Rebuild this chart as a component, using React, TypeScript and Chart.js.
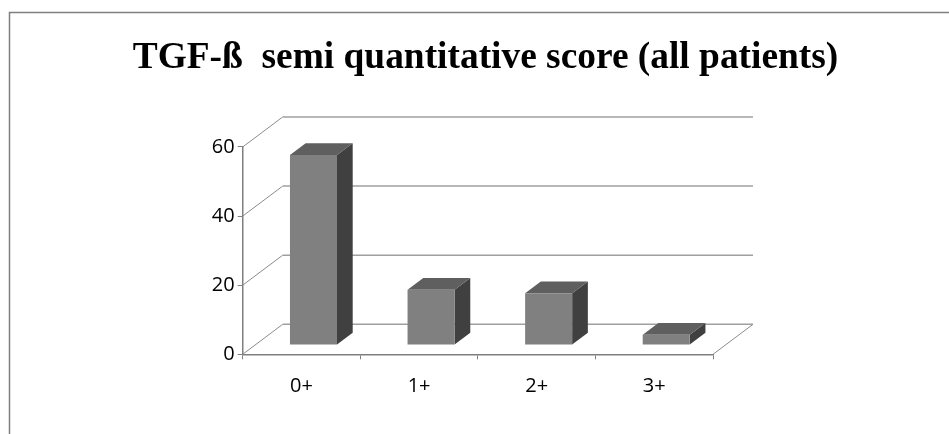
import React, { useEffect, useRef } from "react";
import { Chart, registerables } from "chart.js";

Chart.register(...registerables);

const categories = ["0+", "1+", "2+", "3+"];
const scores = [55, 16, 15, 3];
const yTicks = [0, 20, 40, 60];
const chartTitle = "TGF-ß  semi quantitative score (all patients)";

// Oblique projection of the 3D box: full floor depth and bar depth, in pixels.
const FLOOR_DX = 40;
const FLOOR_DY = -30;
const BAR_SHIFT_X = 12;
const BAR_SHIFT_Y = -9.3;
const BAR_DX = 15.7;
const BAR_DY = -11.7;

const perspective = {
  id: "perspective",
  beforeDraw(chart: any) {
    const { ctx, width, height } = chart;
    ctx.save();
    ctx.fillStyle = "#fff";
    ctx.fillRect(0, 0, width, height);
    ctx.strokeStyle = "#7f7f7f";
    ctx.lineWidth = 1.5;
    ctx.beginPath();
    ctx.moveTo(9.5, height);
    ctx.lineTo(9.5, 12.5);
    ctx.lineTo(width, 12.5);
    ctx.stroke();
    ctx.restore();
  },
  afterLayout(chart: any) {
    chart.titleBlock.left = 22;
    chart.titleBlock.right = chart.width;
  },
  beforeDatasetsDraw(chart: any) {
    const { ctx, chartArea, scales } = chart;
    const y = scales.y;
    ctx.save();
    for (const v of yTicks) {
      const py = y.getPixelForValue(v);
      ctx.strokeStyle = "#8c8c8c";
      ctx.lineWidth = 1;
      ctx.beginPath();
      ctx.moveTo(chartArea.left, py);
      ctx.lineTo(chartArea.left + FLOOR_DX, py + FLOOR_DY);
      ctx.stroke();
      ctx.strokeStyle = "#a0a0a0";
      ctx.lineWidth = 1.5;
      ctx.beginPath();
      ctx.moveTo(chartArea.left + FLOOR_DX, py + FLOOR_DY);
      ctx.lineTo(chartArea.right + FLOOR_DX, py + FLOOR_DY);
      ctx.stroke();
    }
    const floor = y.getPixelForValue(0);
    ctx.strokeStyle = "#8c8c8c";
    ctx.lineWidth = 1;
    ctx.beginPath();
    ctx.moveTo(chartArea.right, floor);
    ctx.lineTo(chartArea.right + FLOOR_DX, floor + FLOOR_DY);
    ctx.stroke();
    // Side and top faces of each bar
    for (const bar of chart.getDatasetMeta(0).data) {
      const { x, y: top, base, width } = bar.getProps(["x", "y", "base", "width"]);
      const l = x - width / 2 + BAR_SHIFT_X;
      const r = x + width / 2 + BAR_SHIFT_X;
      const t = top + BAR_SHIFT_Y;
      const b = base + BAR_SHIFT_Y;
      ctx.fillStyle = "#404040";
      ctx.beginPath();
      ctx.moveTo(r, t);
      ctx.lineTo(r + BAR_DX, t + BAR_DY);
      ctx.lineTo(r + BAR_DX, b + BAR_DY);
      ctx.lineTo(r, b);
      ctx.closePath();
      ctx.fill();
      ctx.fillStyle = "#5f5f5f";
      ctx.beginPath();
      ctx.moveTo(l, t);
      ctx.lineTo(l + BAR_DX, t + BAR_DY);
      ctx.lineTo(r + BAR_DX, t + BAR_DY);
      ctx.lineTo(r, t);
      ctx.closePath();
      ctx.fill();
    }
    ctx.restore();
    // Front faces sit on the floor, set back from the front edge
    ctx.save();
    ctx.translate(BAR_SHIFT_X, BAR_SHIFT_Y);
  },
  afterDatasetsDraw(chart: any) {
    chart.ctx.restore();
  },
};

export default function App() {
  const ref = useRef<HTMLCanvasElement>(null);
  useEffect(() => {
    document.body.style.margin = "0";
    const chart = new Chart(ref.current!, {
      type: "bar",
      data: {
        labels: categories,
        datasets: [{ data: scores, backgroundColor: "#808080", borderWidth: 0, barPercentage: 0.8, categoryPercentage: 0.5 }],
      },
      options: {
        animation: false,
        responsive: false,
        layout: { padding: { left: 0, right: 236, top: 0, bottom: 0 } },
        plugins: {
          legend: { display: false },
          tooltip: { enabled: false },
          title: {
            display: true,
            text: chartTitle,
            color: "#000",
            font: { family: "'Liberation Serif'", size: 37.4, weight: "bold", lineHeight: 1.2 },
            padding: { top: 36, bottom: 66.1 },
          },
        },
        scales: {
          x: {
            afterFit: (s: any) => { s.height = 79.7; },
            border: { color: "#7f7f7f", width: 1.5 },
            grid: { drawOnChartArea: false, drawTicks: true, tickLength: 5, color: "#7f7f7f" },
            ticks: { color: "#000", padding: 15, font: { family: "Open Sans", size: 20 }, maxRotation: 0 },
          },
          y: {
            min: 0,
            max: 60,
            afterFit: (s: any) => { s.width = 242.7; },
            border: { color: "#7f7f7f", width: 1.5 },
            grid: { drawOnChartArea: false, drawTicks: true, tickLength: 5, color: "#7f7f7f" },
            ticks: { color: "#000", padding: 3, stepSize: 20, font: { family: "Open Sans", size: 20 } },
          },
        },
      },
      plugins: [perspective],
    } as any);
    return () => chart.destroy();
  }, []);
  return <canvas ref={ref} width={949} height={434} style={{ display: "block" }} />;
}
